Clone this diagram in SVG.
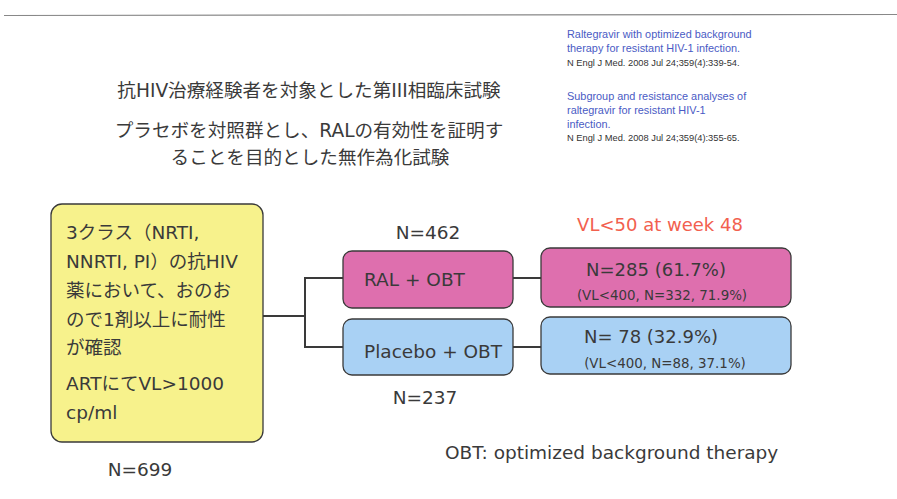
<svg xmlns="http://www.w3.org/2000/svg" width="897" height="499" viewBox="0 0 897 499">
<style>
text{font-family:"DejaVu Sans","Noto Sans CJK JP",sans-serif;fill:#3a3a3a}
.ref{font-family:"Liberation Sans",Arial,sans-serif;font-size:10.9px;fill:#4a5bc4}
.cite{font-family:"Liberation Sans",Arial,sans-serif;font-size:9.3px;fill:#333}
.box{stroke:#3a3a3a;stroke-width:1.3}
.pink{fill:#de6fae}
.blue{fill:#a9d1f4}
.yellow{fill:#f7f28c}
.conn{fill:none;stroke:#3a3a3a;stroke-width:2}
.tt{font-size:18.6px}
.t18{font-size:18.5px}
.t13{font-size:13.4px}
</style>
<rect width="897" height="499" fill="#fff"/>
<line x1="4" y1="15.5" x2="897" y2="14.5" stroke="#888" stroke-width="1.2"/>

<g id="references">
<text class="ref" x="567" y="38">Raltegravir with optimized background</text>
<text class="ref" x="567" y="52">therapy for resistant HIV-1 infection.</text>
<text class="cite" x="567" y="66">N Engl J Med. 2008 Jul 24;359(4):339-54.</text>
<text class="ref" x="567" y="100">Subgroup and resistance analyses of</text>
<text class="ref" x="567" y="114">raltegravir for resistant HIV-1</text>
<text class="ref" x="567" y="128">infection.</text>
<text class="cite" x="567" y="141">N Engl J Med. 2008 Jul 24;359(4):355-65.</text>
</g>

<g id="title">
<text class="tt" x="309" y="97" text-anchor="middle">抗HIV治療経験者を対象とした第III相臨床試験</text>
<text class="tt" x="309" y="137" text-anchor="middle">プラセボを対照群とし、RALの有効性を証明す</text>
<text class="tt" x="310" y="164" text-anchor="middle">ることを目的とした無作為化試験</text>
</g>

<g id="connectors">
<polyline class="conn" points="263,316 305,316"/>
<polyline class="conn" points="343,278 305,278 305,347 343,347"/>
<line class="conn" x1="513" y1="278" x2="541" y2="278"/>
<line class="conn" x1="513" y1="347" x2="541" y2="347"/>
</g>

<g id="population">
<rect class="box yellow" x="51" y="204" width="212" height="238" rx="11"/>
<text class="t18" x="66" y="239">3クラス（NRTI,</text>
<text class="t18" x="66" y="268">NNRTI, PI）の抗HIV</text>
<text class="t18" x="66" y="297">薬において、おのお</text>
<text class="t18" x="66" y="326">ので1剤以上に耐性</text>
<text class="t18" x="66" y="354">が確認</text>
<text class="t18" x="66" y="390">ARTにてVL&gt;1000</text>
<text class="t18" x="66" y="419">cp/ml</text>
<text class="t18" x="140" y="476" text-anchor="middle">N=699</text>
</g>

<g id="ral">
<text class="t18" x="428" y="239" text-anchor="middle">N=462</text>
<rect class="box pink" x="343" y="251" width="170" height="57" rx="9"/>
<text class="t18" x="364" y="286">RAL + OBT</text>
</g>

<g id="placebo">
<rect class="box blue" x="343" y="319" width="170" height="56" rx="9"/>
<text class="t18" x="364" y="358">Placebo + OBT</text>
<text class="t18" x="425" y="404" text-anchor="middle">N=237</text>
</g>

<g id="ral-result">
<text x="660" y="231" text-anchor="middle" style="fill:#f2604e;font-size:18px">VL&lt;50 at week 48</text>
<rect class="box pink" x="541" y="248" width="250" height="59" rx="9"/>
<text class="t18" x="656" y="276" text-anchor="middle" style="font-size:18px">N=285 (61.7%)</text>
<text class="t13" x="662" y="300" text-anchor="middle">(VL&lt;400, N=332, 71.9%)</text>
</g>

<g id="placebo-result">
<rect class="box blue" x="541" y="317" width="250" height="57" rx="9"/>
<text class="t18" x="651" y="343" text-anchor="middle" style="font-size:18px">N= 78 (32.9%)</text>
<text class="t13" x="665" y="368" text-anchor="middle">(VL&lt;400, N=88, 37.1%)</text>
</g>

<g id="legend">
<text class="t18" x="445" y="459">OBT: optimized background therapy</text>
</g>
</svg>
